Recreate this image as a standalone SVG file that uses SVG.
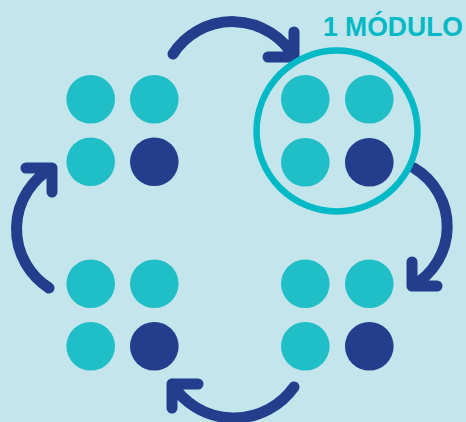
<svg xmlns="http://www.w3.org/2000/svg" width="466" height="422" viewBox="0 0 466 422">
<style>
.t{fill:#20bec7}
.d{fill:#253d8d}
.arr{fill:none;stroke:#253d8d;stroke-width:11;stroke-linecap:round;stroke-linejoin:round}
.ring{fill:none;stroke:#00b9c6;stroke-width:6.5}
.lbl{font-family:"Liberation Sans",Arial,sans-serif;font-weight:bold;font-size:27px;fill:#00b9c6}
</style>
<rect width="466" height="422" fill="#c3e5eb"/>
<g id="connectors">
<path class="arr" d="M173,54 A71,71 0 0 1 294,57 M294,32 L294,57 L268,57"/>
<path class="arr" d="M414,168 A68,68 0 0 1 412,286 M412,262 L412,286 L437,286"/>
<path class="arr" d="M294,387 A73.5,73.5 0 0 1 172,384 M198,384 L172,384 L172,408"/>
<path class="arr" d="M49,288 A70,70 0 0 1 52,168 M26,168 L52,168 L52,192"/>
</g>
<g id="module-top-left">
<circle class="t" cx="90.7" cy="99.3" r="24.3"/>
<circle class="t" cx="154.3" cy="99.3" r="24.3"/>
<circle class="t" cx="90.7" cy="161.7" r="24.3"/>
<circle class="d" cx="154.3" cy="161.7" r="24.3"/>
</g>
<g id="module-top-right">
<circle class="ring" cx="337" cy="131" r="80.5"/>
<circle class="t" cx="305.3" cy="99.3" r="24.3"/>
<circle class="t" cx="369.3" cy="99.3" r="24.3"/>
<circle class="t" cx="305.3" cy="162.3" r="24.3"/>
<circle class="d" cx="369.3" cy="162.3" r="24.3"/>
<text class="lbl" x="323" y="36" textLength="140" lengthAdjust="spacingAndGlyphs">1 MÓDULO</text>
</g>
<g id="module-bottom-left">
<circle class="t" cx="90.7" cy="283.7" r="24.3"/>
<circle class="t" cx="154.3" cy="283.7" r="24.3"/>
<circle class="t" cx="90.7" cy="346.3" r="24.3"/>
<circle class="d" cx="154.3" cy="346.3" r="24.3"/>
</g>
<g id="module-bottom-right">
<circle class="t" cx="305.3" cy="283.7" r="24.3"/>
<circle class="t" cx="369.3" cy="283.7" r="24.3"/>
<circle class="t" cx="305.3" cy="346.3" r="24.3"/>
<circle class="d" cx="369.3" cy="346.3" r="24.3"/>
</g>
</svg>
